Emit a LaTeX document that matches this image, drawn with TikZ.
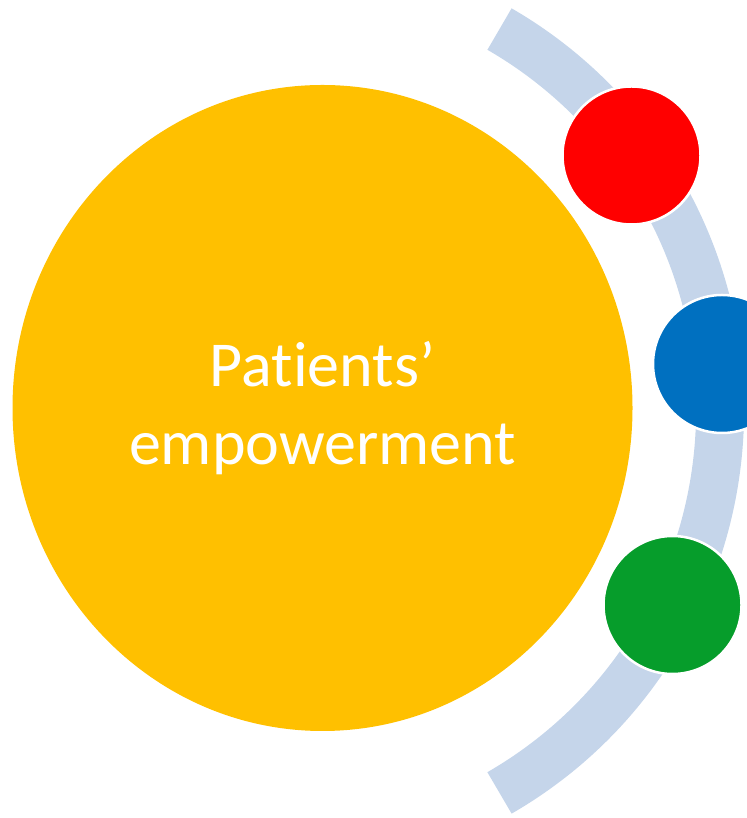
\documentclass[tikz,border=0pt]{standalone}
\usepackage{fontspec}
\setmainfont{Carlito}[RawFeature={-liga;-calt;-clig;-dlig}]
\usetikzlibrary{shapes.geometric}
\definecolor{sun}{HTML}{FFC000}
\definecolor{band}{HTML}{C5D5EA}
\definecolor{dotred}{HTML}{FF0000}
\definecolor{dotblue}{HTML}{0070C0}
\definecolor{dotgreen}{HTML}{069D2B}
\begin{document}
\begin{tikzpicture}[x=1pt,y=1pt,
   dot/.style={circle,draw=white,line width=2.5pt,minimum size=138pt,inner sep=0pt}]
   \useasboundingbox (0,0) rectangle (746,818);
   \node[ellipse,fill=sun,minimum width=620pt,minimum height=646pt,inner sep=0pt,
      text=white,align=center,font=\fontsize{64}{78}\selectfont] (P) at (322.5,410) {Patients’\\empowerment};
   \coordinate (O) at (279,407);
   \draw[band,line width=48pt] ([shift={(-60:441)}]O) arc (-60:60:441);
   \node[dot,fill=dotred] (R) at (631.5,662.5) {};
   \node[dot,fill=dotblue] (B) at (722,454) {};
   \node[dot,fill=dotgreen] (G) at (672.5,213) {};
\end{tikzpicture}
\end{document}
